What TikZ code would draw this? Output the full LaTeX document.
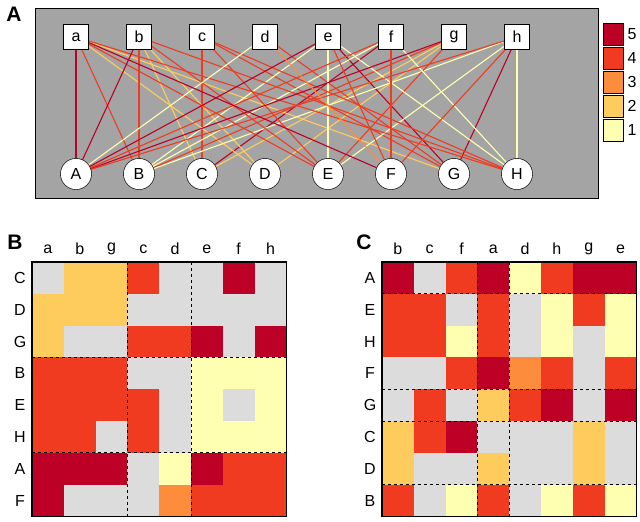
\documentclass[tikz,border=0pt]{standalone}
\usepackage{fontspec}
\setmainfont{Liberation Sans}
\usetikzlibrary{positioning}
\definecolor{w5}{HTML}{BD0026}
\definecolor{w4}{HTML}{F03B20}
\definecolor{w3}{HTML}{FD8D3C}
\definecolor{w2}{HTML}{FECC5C}
\definecolor{w1}{HTML}{FFFFB2}
\definecolor{w0}{HTML}{DCDCDC}
\tikzset{
  cell/.style={fill=w#1, draw=none},
  edge/.style={draw=w#1, line width=1.1pt}
}
\begin{document}
\begin{tikzpicture}[x=1pt,y=-1pt,
    every node/.style={font=\fontsize{16}{18}\selectfont},
    topnode/.style={draw, fill=white, minimum size=25pt, inner sep=0pt},
    botnode/.style={draw, circle, fill=white, minimum size=31pt, inner sep=0pt},
    sep/.style={dashed, line width=1pt},
    panel/.style={font=\fontsize{21}{23}\selectfont\bfseries}
  ]
  \useasboundingbox (0,0) rectangle (640,522);

  % Panel A
  \node[panel] at (14,14) {A};
  \draw[fill=gray!90!black, fill opacity=0.65] (35,8) rectangle (598,198);
  \foreach \n [count=\i] in {a,b,c,d,e,f,g,h}
    \node[topnode] (\n) at ({13+63*\i},37) {\n};
  \foreach \n [count=\i] in {A,B,C,D,E,F,G,H}
    \node[botnode] (\n) at ({13+63*\i},174) {\n};

  % weights (rows of panel B)
  \foreach \r/\vals in {
      C/{a/0,b/2,g/2,c/4,d/0,e/0,f/5,h/0},
      D/{a/2,b/2,g/2,c/0,d/0,e/0,f/0,h/0},
      G/{a/2,b/0,g/0,c/4,d/4,e/5,f/0,h/5},
      B/{a/4,b/4,g/4,c/0,d/0,e/1,f/1,h/1},
      E/{a/4,b/4,g/4,c/4,d/0,e/1,f/0,h/1},
      H/{a/4,b/4,g/0,c/4,d/0,e/1,f/1,h/1},
      A/{a/5,b/5,g/5,c/0,d/1,e/5,f/4,h/4},
      F/{a/5,b/0,g/0,c/0,d/3,e/4,f/4,h/4}} {
    \foreach \c/\v in \vals {
      \ifnum\v>0 \draw[edge=\v] (\c) -- (\r); \fi
    }
  }
  % redraw nodes on top
  \foreach \n [count=\i] in {a,b,c,d,e,f,g,h}
    \node[topnode] at ({13+63*\i},37) {\n};
  \foreach \n [count=\i] in {A,B,C,D,E,F,G,H}
    \node[botnode] at ({13+63*\i},174) {\n};

  % legend
  \foreach \v [count=\i] in {5,4,3,2,1} {
    \node[draw, fill=w\v, minimum width=20pt, minimum height=22pt, inner sep=0pt]
      (key\v) at (613,{10+24*\i}) {};
    \node[right=1pt of key\v] {\v};
  }

  % Panel B
  \node[panel] at (15,242) {B};
  \foreach \r/\vals [count=\i] in {
      C/{a/0,b/2,g/2,c/4,d/0,e/0,f/5,h/0},
      D/{a/2,b/2,g/2,c/0,d/0,e/0,f/0,h/0},
      G/{a/2,b/0,g/0,c/4,d/4,e/5,f/0,h/5},
      B/{a/4,b/4,g/4,c/0,d/0,e/1,f/1,h/1},
      E/{a/4,b/4,g/4,c/4,d/0,e/1,f/0,h/1},
      H/{a/4,b/4,g/0,c/4,d/0,e/1,f/1,h/1},
      A/{a/5,b/5,g/5,c/0,d/1,e/5,f/4,h/4},
      F/{a/5,b/0,g/0,c/0,d/3,e/4,f/4,h/4}} {
    \node at (20,{262+31.8*(\i-0.5)}) {\r};
    \foreach \c/\v [count=\j] in \vals {
      \fill[cell=\v] ({32+31.8*(\j-1)},{262+31.8*(\i-1)}) rectangle ++(31.8,31.8);
      \ifnum\i=1 \node at ({32+31.8*(\j-0.5)},249) {\c}; \fi
    }
  }
  \draw[sep] (127.4,262) -- (127.4,516.4) (191,262) -- (191,516.4)
    (32,357.4) -- (286.4,357.4) (32,452.8) -- (286.4,452.8);
  \draw[line width=1.3pt] (32,262) rectangle (286.4,516.4);

  % Panel C
  \node[panel] at (364,242) {C};
  \foreach \r/\vals [count=\i] in {
      A/{b/5,c/0,f/4,a/5,d/1,h/4,g/5,e/5},
      E/{b/4,c/4,f/0,a/4,d/0,h/1,g/4,e/1},
      H/{b/4,c/4,f/1,a/4,d/0,h/1,g/0,e/1},
      F/{b/0,c/0,f/4,a/5,d/3,h/4,g/0,e/4},
      G/{b/0,c/4,f/0,a/2,d/4,h/5,g/0,e/5},
      C/{b/2,c/4,f/5,a/0,d/0,h/0,g/2,e/0},
      D/{b/2,c/0,f/0,a/2,d/0,h/0,g/2,e/0},
      B/{b/4,c/0,f/1,a/4,d/0,h/1,g/4,e/1}} {
    \node at (370,{262+31.8*(\i-0.5)}) {\r};
    \foreach \c/\v [count=\j] in \vals {
      \fill[cell=\v] ({382+31.8*(\j-1)},{262+31.8*(\i-1)}) rectangle ++(31.8,31.8);
      \ifnum\i=1 \node at ({382+31.8*(\j-0.5)},249) {\c}; \fi
    }
  }
  \draw[sep] (477.4,262) -- (477.4,516.4) (509.2,262) -- (509.2,516.4)
    (382,293.8) -- (636.4,293.8) (382,389.2) -- (636.4,389.2)
    (382,421) -- (636.4,421) (382,484.6) -- (636.4,484.6);
  \draw[line width=1.3pt] (382,262) rectangle (636.4,516.4);
\end{tikzpicture}
\end{document}
